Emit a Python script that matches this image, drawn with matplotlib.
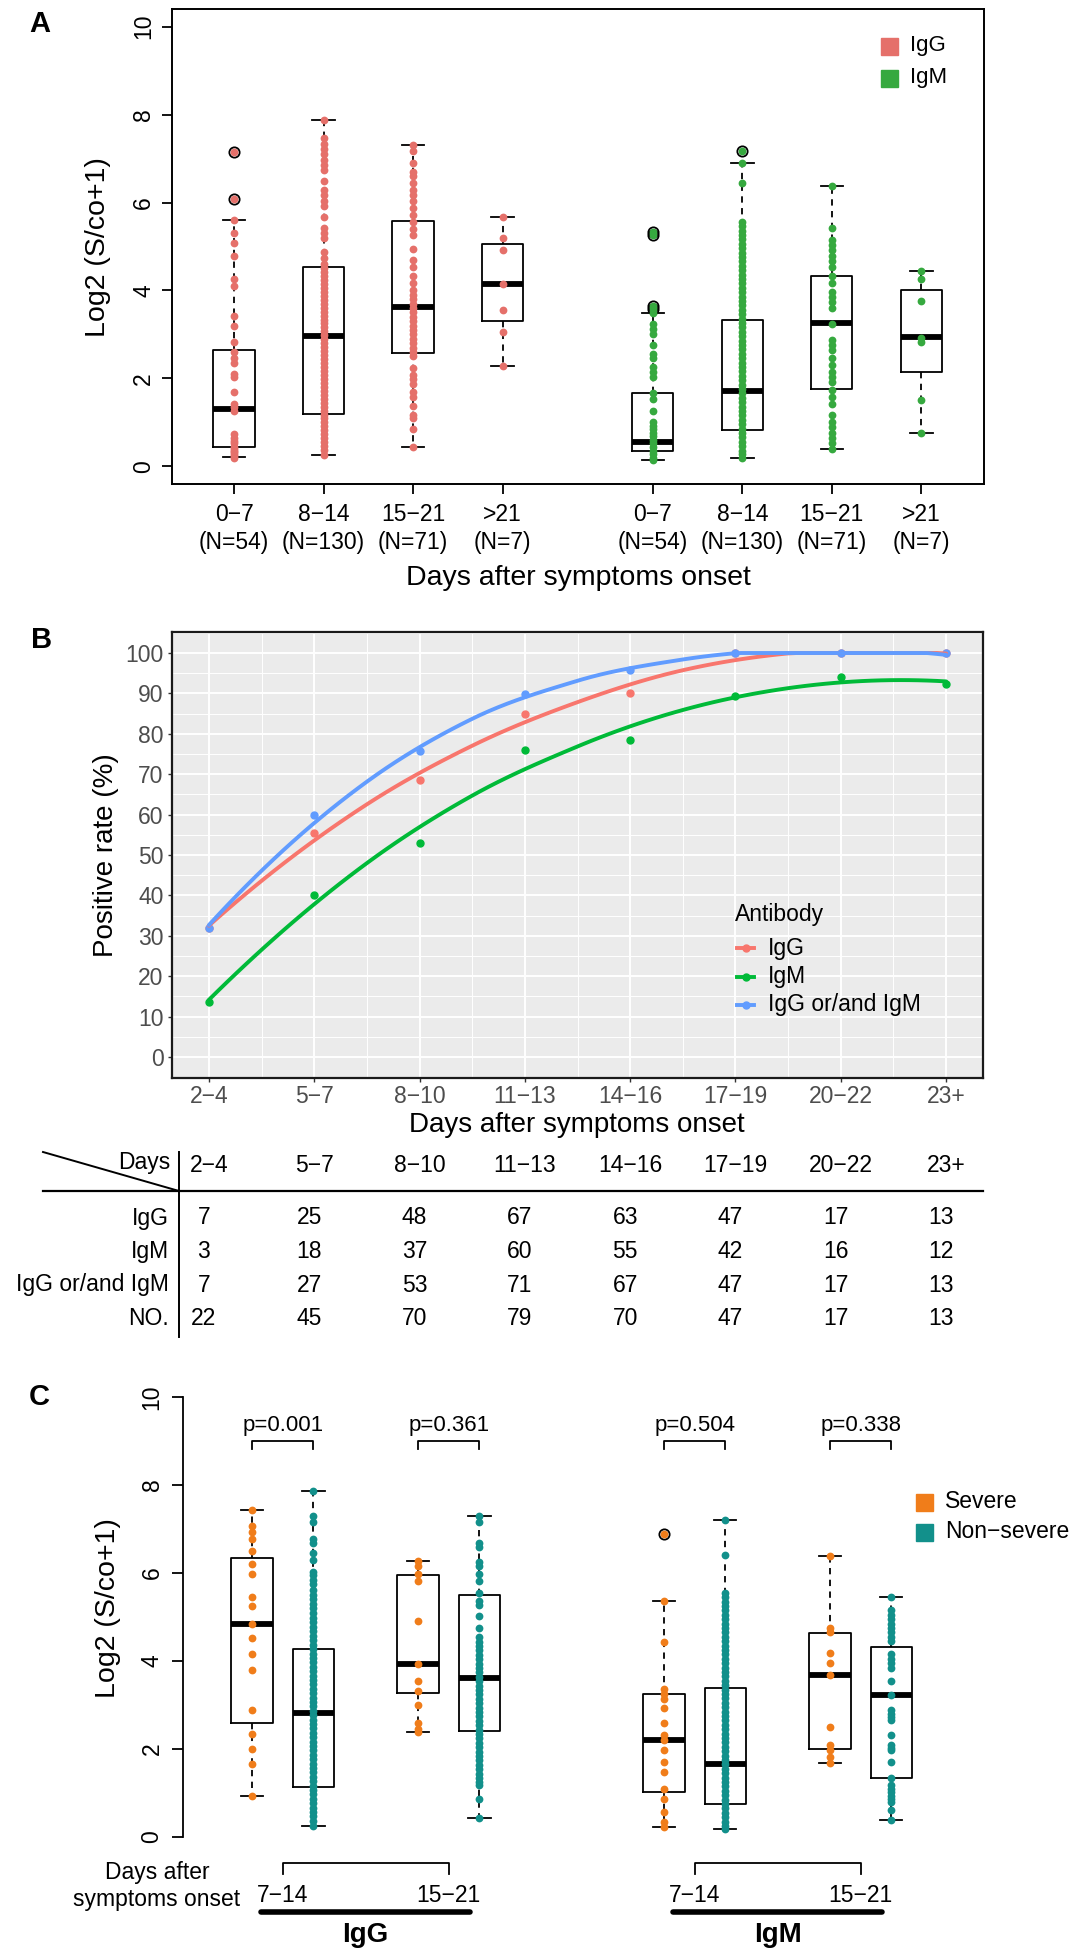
import numpy as np
import matplotlib
matplotlib.use("Agg")
import matplotlib.pyplot as plt
from matplotlib.patches import Rectangle
from matplotlib.ticker import AutoMinorLocator

plt.rcParams["font.family"] = ["Liberation Sans", "DejaVu Sans"]
plt.rcParams["axes.unicode_minus"] = True

W, H = 1074, 1953

# ---------------- panel A data ----------------
a_groups = ["0−7", "8−14", "15−21", ">21"]
a_n = [54, 130, 71, 7]
a_igg_pos = [1, 2, 3, 4]
a_igm_pos = [5.68, 6.68, 7.68, 8.68]
# whislo, q1, median, q3, whishi
a_igg_box = [[0.22, 0.45, 1.31, 2.65, 5.60],
             [0.27, 1.20, 2.96, 4.54, 7.87],
             [0.45, 2.58, 3.63, 5.58, 7.30],
             [2.29, 3.31, 4.14, 5.06, 5.66]]
a_igm_box = [[0.15, 0.35, 0.56, 1.66, 3.48],
             [0.20, 0.83, 1.72, 3.34, 6.89],
             [0.40, 1.76, 3.26, 4.34, 6.37],
             [0.75, 2.15, 2.94, 4.01, 4.44]]
a_igg_out = [[7.16, 6.07], [], [], []]
a_igm_out = [[5.33, 5.27, 3.65, 3.59], [7.18], [], []]
a_igg_pts = [
    [7.16, 6.07, 5.60, 5.30, 5.07, 4.78, 4.27, 4.10, 3.41, 3.20, 2.84, 2.60, 2.47,
     2.35, 2.11, 2.03, 1.69, 1.42, 1.34, 1.26, 0.73, 0.65, 0.58, 0.53, 0.45, 0.40,
     0.36, 0.32, 0.28, 0.24, 0.20],
    [7.87, 7.46, 7.34, 7.22, 7.10, 6.97, 6.85, 6.73, 6.49, 6.29, 6.16, 6.04, 5.92,
     5.68, 5.43, 5.31, 5.19, 4.87, 4.74, 4.60, 4.51, 4.42, 4.33, 4.24, 4.15, 4.06,
     3.97, 3.88, 3.79, 3.70, 3.61, 3.52, 3.43, 3.34, 3.25, 3.16, 3.07, 2.98, 2.89,
     2.80, 2.71, 2.62, 2.53, 2.44, 2.35, 2.26, 2.17, 2.08, 1.99, 1.90, 1.81, 1.72,
     1.63, 1.54, 1.45, 1.36, 1.27, 1.18, 1.09, 1.00, 0.91, 0.82, 0.73, 0.64, 0.55,
     0.46, 0.37, 0.27],
    [7.30, 7.18, 6.89, 6.69, 6.61, 6.45, 6.29, 6.16, 6.04, 5.88, 5.72, 5.56, 5.39,
     5.27, 4.95, 4.70, 4.54, 4.34, 4.18, 4.00, 3.90, 3.80, 3.70, 3.60, 3.50, 3.40,
     3.30, 3.20, 3.10, 3.00, 2.90, 2.80, 2.70, 2.60, 2.50, 2.23, 2.07, 1.99, 1.87,
     1.70, 1.58, 1.38, 1.18, 1.09, 0.85, 0.45],
    [5.66, 5.19, 4.93, 4.14, 3.56, 3.06, 2.29],
]
a_igm_pts = [
    [5.33, 5.27, 3.65, 3.59, 3.48, 3.24, 3.12, 3.00, 2.76, 2.55, 2.47, 2.27, 2.15,
     2.03, 1.66, 1.54, 1.26, 1.01, 0.93, 0.85, 0.77, 0.69, 0.61, 0.53, 0.45, 0.36,
     0.28, 0.20, 0.15],
    [7.18, 6.89, 6.45, 5.56, 5.46, 5.36, 5.26, 5.16, 5.06, 4.96, 4.86, 4.76, 4.66,
     4.56, 4.46, 4.36, 4.26, 4.16, 4.06, 3.96, 3.86, 3.76, 3.66, 3.56, 3.46, 3.36,
     3.26, 3.16, 3.06, 2.96, 2.86, 2.76, 2.66, 2.56, 2.46, 2.36, 2.26, 2.16, 2.06,
     1.96, 1.86, 1.76, 1.66, 1.56, 1.46, 1.36, 1.26, 1.16, 1.06, 0.96, 0.86, 0.76,
     0.66, 0.56, 0.46, 0.36, 0.28, 0.20],
    [6.37, 5.43, 5.15, 5.03, 4.91, 4.78, 4.66, 4.54, 4.34, 4.18, 3.97, 3.85, 3.73,
     3.61, 3.24, 2.88, 2.76, 2.64, 2.47, 2.31, 2.15, 2.03, 1.91, 1.74, 1.58, 1.42,
     1.18, 1.01, 0.89, 0.77, 0.65, 0.53, 0.40],
    [4.44, 4.27, 3.75, 2.92, 2.84, 1.50, 0.75],
]

# ---------------- panel B data ----------------
b_days = ["2−4", "5−7", "8−10", "11−13", "14−16", "17−19", "20−22", "23+"]
b_igg = [7, 25, 48, 67, 63, 47, 17, 13]
b_igm = [3, 18, 37, 60, 55, 42, 16, 12]
b_any = [7, 27, 53, 71, 67, 47, 17, 13]
b_total = [22, 45, 70, 79, 70, 47, 17, 13]
b_series = ["IgG", "IgM", "IgG or/and IgM"]
b_colors = ["#F8766D", "#00BA38", "#619CFF"]

# ---------------- panel C data ----------------
c_days = ["7−14", "15−21"]
c_abs = ["IgG", "IgM"]
c_pos = [[1, 2, 3.7, 4.7], [7.7, 8.7, 10.4, 11.4]]  # sev, non, sev, non
c_pvals = [["p=0.001", "p=0.361"], ["p=0.504", "p=0.338"]]
c_box = [[[0.93, 2.60, 4.83, 6.35, 7.44],
          [0.26, 1.14, 2.82, 4.28, 7.86],
          [2.38, 3.28, 3.93, 5.96, 6.27],
          [0.44, 2.40, 3.61, 5.50, 7.29]],
         [[0.22, 1.03, 2.20, 3.25, 5.37],
          [0.19, 0.76, 1.66, 3.39, 7.21],
          [1.68, 1.99, 3.69, 4.63, 6.38],
          [0.39, 1.35, 3.23, 4.32, 5.46]]]
c_out = [[[], [], [], []], [[6.88], [], [], []]]
c_pts = [[
    [7.44, 7.07, 6.94, 6.77, 6.51, 6.20, 5.98, 5.46, 5.26, 4.83, 4.52, 4.15, 3.80,
     2.88, 2.34, 2.01, 1.66, 0.93],
    [7.86, 7.29, 7.16, 6.77, 6.68, 6.46, 6.29, 6.03, 5.95, 5.85, 5.75, 5.62, 5.50,
     5.40, 5.30, 5.20, 5.10, 4.98, 4.88, 4.78, 4.68, 4.57, 4.47, 4.37, 4.27, 4.17,
     4.07, 3.97, 3.87, 3.77, 3.67, 3.57, 3.47, 3.37, 3.27, 3.17, 3.07, 2.97, 2.87,
     2.77, 2.67, 2.57, 2.47, 2.37, 2.27, 2.17, 2.07, 1.97, 1.87, 1.77, 1.67, 1.57,
     1.47, 1.37, 1.27, 1.17, 1.07, 0.97, 0.87, 0.77, 0.67, 0.57, 0.47, 0.37, 0.26],
    [6.27, 6.16, 5.98, 5.81, 4.91, 3.93, 3.54, 3.32, 3.01, 2.58, 2.45, 2.38],
    [7.29, 7.16, 6.68, 6.59, 6.24, 6.16, 5.98, 5.81, 5.55, 5.37, 5.28, 5.02, 4.76,
     4.54, 4.44, 4.34, 4.24, 4.14, 4.04, 3.94, 3.84, 3.74, 3.64, 3.54, 3.44, 3.34,
     3.24, 3.14, 3.04, 2.94, 2.84, 2.74, 2.64, 2.54, 2.44, 2.34, 2.24, 2.14, 2.04,
     1.94, 1.84, 1.74, 1.64, 1.54, 1.44, 1.34, 1.24, 1.18, 0.87, 0.44],
], [
    [6.88, 5.37, 4.44, 3.36, 3.25, 3.13, 2.93, 2.59, 2.31, 2.20, 1.97, 1.70, 1.48,
     1.09, 0.87, 0.57, 0.35, 0.22],
    [7.21, 6.42, 5.55, 5.45, 5.35, 5.25, 5.15, 5.05, 4.95, 4.85, 4.75, 4.65, 4.55,
     4.45, 4.35, 4.25, 4.15, 4.05, 3.95, 3.85, 3.75, 3.65, 3.55, 3.45, 3.35, 3.25,
     3.15, 3.05, 2.95, 2.85, 2.75, 2.65, 2.55, 2.45, 2.35, 2.25, 2.15, 2.05, 1.95,
     1.85, 1.75, 1.65, 1.55, 1.45, 1.35, 1.25, 1.15, 1.05, 0.95, 0.85, 0.75, 0.65,
     0.55, 0.45, 0.35, 0.25, 0.19],
    [6.38, 4.76, 4.67, 4.19, 3.96, 3.69, 2.49, 2.10, 1.97, 1.82, 1.68],
    [5.46, 5.15, 5.05, 4.95, 4.85, 4.75, 4.65, 4.55, 4.45, 4.15, 4.05, 3.95, 3.85,
     3.54, 3.23, 2.88, 2.80, 2.72, 2.66, 2.31, 2.10, 2.03, 1.97, 1.70, 1.35, 1.18,
     1.10, 1.02, 0.94, 0.86, 0.79, 0.61, 0.39],
]]
c_labels = ["Severe", "Non−severe"]
c_colors = ["#F07D1A", "#12908B"]

IGG_COL = "#E5706A"
IGM_COL = "#36A93F"


def px_axes(fig, l, t, r, b):
    """Add axes given pixel box (left, top, right, bottom)."""
    return fig.add_axes([l / W, 1 - b / H, (r - l) / W, (b - t) / H])


def to_stats(rows):
    return [dict(whislo=r[0], q1=r[1], med=r[2], q3=r[3], whishi=r[4], fliers=[])
            for r in rows]


def draw_boxes(ax, rows, pos, width, capw):
    ax.bxp(to_stats(rows), positions=pos, widths=width, showfliers=False,
           capwidths=capw, manage_ticks=False,
           boxprops=dict(color="black", lw=1.3),
           whiskerprops=dict(color="black", lw=1.3, ls=(0, (3.5, 3))),
           capprops=dict(color="black", lw=1.3),
           medianprops=dict(color="black", lw=4.2, solid_capstyle="butt"))


def draw_points(ax, pos, vals, outs, color):
    for p, v, o in zip(pos, vals, outs):
        if o:
            ax.plot([p] * len(o), o, "o", ms=7.4, mfc="none", mec="black",
                    mew=1.3, zorder=3)
        ax.plot([p] * len(v), v, "o", ms=5.6, color=color, mec="none", zorder=4)


def local_fit(x, y, x0, q):
    """Local quadratic fit with tricube weights; returns value and slope at x0."""
    d = np.abs(x - x0)
    h = np.sort(d)[q]
    w = np.clip(1 - (d / h) ** 3, 0, None) ** 3
    A = np.vstack([np.ones_like(x), x - x0, (x - x0) ** 2]).T
    sw = np.sqrt(w)
    coef = np.linalg.lstsq(A * sw[:, None], y * sw, rcond=None)[0]
    return coef[0], coef[1]


def loess(x, y, xs, span=0.75):
    """loess smoother: fits at cell vertices, cubic Hermite blending between."""
    x = np.asarray(x, float)
    y = np.asarray(y, float)
    q = int(np.floor(len(x) * span))
    verts = np.concatenate([[x[0]], (x[:-1] + x[1:]) / 2, [x[-1]]])
    fits = [local_fit(x, y, v, q) for v in verts]
    vals = np.array([f[0] for f in fits])
    slopes = np.array([f[1] for f in fits])
    out = []
    for x0 in xs:
        i = min(np.searchsorted(verts, x0, side="right") - 1, len(verts) - 2)
        h = verts[i + 1] - verts[i]
        t = (x0 - verts[i]) / h
        h00 = 2 * t ** 3 - 3 * t ** 2 + 1
        h10 = t ** 3 - 2 * t ** 2 + t
        h01 = -2 * t ** 3 + 3 * t ** 2
        h11 = t ** 3 - t ** 2
        out.append(h00 * vals[i] + h10 * h * slopes[i]
                   + h01 * vals[i + 1] + h11 * h * slopes[i + 1])
    return np.array(out)


fig = plt.figure(figsize=(W / 100, H / 100), dpi=100)
ov = fig.add_axes([0, 0, 1, 1])
ov.set_xlim(0, W)
ov.set_ylim(H, 0)
ov.axis("off")
ov.set_zorder(10)

# ======================= A =======================
ax_a = px_axes(fig, 172, 9, 984, 484)
ax_a.set_xlim(0.307, 9.38)
ax_a.set_ylim(-0.4, 10.4)
draw_boxes(ax_a, a_igg_box, a_igg_pos, 0.46, 0.25)
draw_boxes(ax_a, a_igm_box, a_igm_pos, 0.46, 0.25)
draw_points(ax_a, a_igg_pos, a_igg_pts, a_igg_out, IGG_COL)
draw_points(ax_a, a_igm_pos, a_igm_pts, a_igm_out, IGM_COL)
ax_a.set_xticks(a_igg_pos + a_igm_pos)
ax_a.set_xticklabels([f"{g}\n(N={n})" for g, n in zip(a_groups, a_n)] * 2)
for t in ax_a.get_xticklabels():
    t.set_linespacing(1.25)
ax_a.set_yticks([0, 2, 4, 6, 8, 10])
ax_a.tick_params(axis="both", length=7, width=1.3, labelsize=16.5)
ax_a.tick_params(axis="x", pad=7)
ax_a.tick_params(axis="y", labelrotation=90, pad=5)
for lbl in ax_a.get_yticklabels():
    lbl.set_va("center")
for s in ax_a.spines.values():
    s.set_linewidth(1.4)
ov.text(98, 247, "Log2 (S/co+1)", rotation=90, ha="center", va="center",
        fontsize=20.5)
ov.text(578, 578, "Days after symptoms onset", ha="center", va="center",
        fontsize=20.5)
for i, (lab, col) in enumerate(zip(["IgG", "IgM"], [IGG_COL, IGM_COL])):
    yc = 46 + i * 32
    ov.add_patch(Rectangle((881, yc - 8.5), 17, 17, color=col))
    ov.text(910, yc, lab, ha="left", va="center", fontsize=16)
ov.text(40, 24, "A", ha="center", va="center", fontsize=21, fontweight="bold")

# ======================= B =======================
ax_b = px_axes(fig, 172, 632, 983, 1078)
ax_b.set_facecolor("#EBEBEB")
ax_b.set_xlim(-0.35, 7.35)
ax_b.set_ylim(-5.2, 105.2)
ax_b.set_xticks(range(len(b_days)))
ax_b.set_xticklabels(b_days)
ax_b.set_yticks(range(0, 101, 10))
ax_b.xaxis.set_minor_locator(AutoMinorLocator(2))
ax_b.yaxis.set_minor_locator(AutoMinorLocator(2))
ax_b.grid(which="major", color="white", lw=1.4)
ax_b.grid(which="minor", color="white", lw=0.7)
ax_b.set_axisbelow(True)
ax_b.tick_params(which="major", length=3, width=1, color="#333333",
                 labelcolor="#4D4D4D", labelsize=16.5)
ax_b.tick_params(which="minor", length=0)
ax_b.tick_params(axis="x", pad=2)
ax_b.tick_params(axis="y", pad=3)
for s in ax_b.spines.values():
    s.set_linewidth(1.6)
    s.set_color("#1A1A1A")
bx = np.arange(len(b_days))
xs = np.linspace(0, len(b_days) - 1, 80)
for name, cnt, col in zip(b_series, [b_igg, b_igm, b_any], b_colors):
    pct = np.array(cnt) / np.array(b_total) * 100
    ax_b.plot(bx, pct, "o", ms=5, color=col, zorder=3)
    ax_b.plot(xs, np.minimum(loess(bx, pct, xs), 100), color=col, lw=2.8,
              zorder=4, solid_capstyle="round")
ov.text(106, 855, "Positive rate (%)", rotation=90, ha="center", va="center",
        fontsize=20)
ov.text(577, 1125, "Days after symptoms onset", ha="center", va="center",
        fontsize=20)
ov.text(735, 915, "Antibody", ha="left", va="center", fontsize=16.5)
for i, (name, col) in enumerate(zip(b_series, b_colors)):
    yc = 948 + i * 28.5
    ov.plot([737, 754], [yc, yc], color=col, lw=2.8)
    ov.plot([745.5], [yc], "o", ms=5, color=col)
    ov.text(768, yc, name, ha="left", va="center", fontsize=16.5)
ov.text(42, 640, "B", ha="center", va="center", fontsize=21, fontweight="bold")

# table under B
col_x = [ax_b.transData.transform((i, 0))[0] for i in range(len(b_days))]
ov.plot([43, 179], [1152, 1191], color="black", lw=1.4)
ov.plot([179, 179], [1152, 1337], color="black", lw=1.4)
ov.plot([43, 983], [1191, 1191], color="black", lw=1.6)
ov.text(170, 1163, "Days", ha="right", va="center", fontsize=16.5)
for x, d in zip(col_x, b_days):
    ov.text(x, 1165, d, ha="center", va="center", fontsize=16.5)
rows = [("IgG", b_igg), ("IgM", b_igm), ("IgG or/and IgM", b_any), ("NO.", b_total)]
for j, (lab, vals) in enumerate(rows):
    yc = 1218 + j * 33.5
    ov.text(169, yc, lab, ha="right", va="center", fontsize=16.5)
    for x, v in zip(col_x, vals):
        ov.text(x - 5, yc, str(v), ha="center", va="center", fontsize=16.5)

# ======================= C =======================
ax_c = px_axes(fig, 183, 1379.4, 1074, 1854.6)
ax_c.set_xlim(-0.122, 14.37)
ax_c.set_ylim(-0.4, 10.4)
for k in range(2):
    draw_boxes(ax_c, c_box[k], c_pos[k], 0.67, 0.36)
    for g in range(4):
        col = c_colors[g % 2]
        draw_points(ax_c, [c_pos[k][g]], [c_pts[k][g]], [c_out[k][g]], col)
    for j in range(2):
        p1, p2 = c_pos[k][2 * j], c_pos[k][2 * j + 1]
        ax_c.plot([p1, p1, p2, p2], [8.82, 9.0, 9.0, 8.82], color="black", lw=1.3)
        ax_c.text((p1 + p2) / 2, 9.36, c_pvals[k][j], ha="center", va="center",
                  fontsize=16)
    # group brackets below the axis
    m1 = (c_pos[k][0] + c_pos[k][1]) / 2
    m2 = (c_pos[k][2] + c_pos[k][3]) / 2
    ax_c.plot([m1, m1, m2, m2], [-0.84, -0.59, -0.59, -0.84], color="black",
              lw=1.3, clip_on=False)
    ax_c.text(m1, -1.32, c_days[0], ha="center", va="center", fontsize=16.5)
    ax_c.text(m2, -1.32, c_days[1], ha="center", va="center", fontsize=16.5)
    ax_c.plot([m1 - 0.35, m2 + 0.35], [-1.70, -1.70], color="black", lw=4,
              solid_capstyle="round", clip_on=False)
    ax_c.text((m1 + m2) / 2, -2.23, c_abs[k], ha="center", va="center",
              fontsize=20, fontweight="bold")
ax_c.text(-0.545, -0.80, "Days after", ha="center", va="center", fontsize=16.5)
ax_c.text(-0.545, -1.41, "symptoms onset", ha="center", va="center",
          fontsize=16.5)
for s in ["top", "right", "bottom"]:
    ax_c.spines[s].set_visible(False)
ax_c.spines["left"].set_bounds(0, 10)
ax_c.spines["left"].set_linewidth(1.3)
ax_c.set_xticks([])
ax_c.set_yticks([0, 2, 4, 6, 8, 10])
ax_c.tick_params(axis="y", length=8, width=1.3, labelsize=16.5,
                 labelrotation=90, pad=6)
for lbl in ax_c.get_yticklabels():
    lbl.set_va("center")
ov.text(108, 1608, "Log2 (S/co+1)", rotation=90, ha="center", va="center",
        fontsize=20.5)
for i, (lab, col) in enumerate(zip(c_labels, c_colors)):
    yc = 1502 + i * 30
    ov.add_patch(Rectangle((915.5, yc - 8.5), 17, 17, color=col))
    ov.text(945, yc, lab, ha="left", va="center", fontsize=16.5)
ov.text(39, 1397, "C", ha="center", va="center", fontsize=21, fontweight="bold")

fig.savefig("out.png", dpi=100)
